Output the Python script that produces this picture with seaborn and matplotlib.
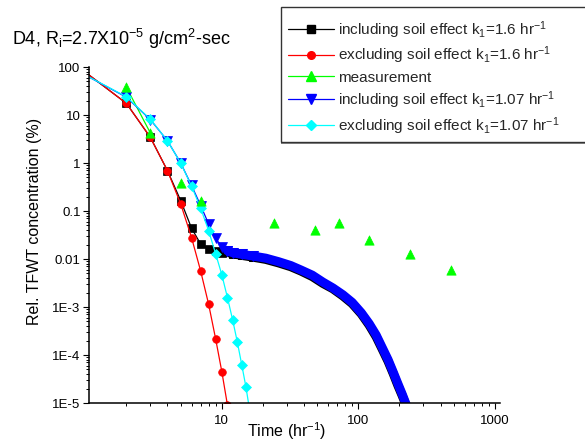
import numpy as np
import matplotlib
matplotlib.use('Agg')
import matplotlib.pyplot as plt
import seaborn as sns
from matplotlib.lines import Line2D
from matplotlib.patches import Rectangle
from matplotlib.ticker import FixedLocator, FixedFormatter, LogLocator, NullFormatter

# Values (time in hr, concentration in %)
time_incl_16 = [1, 2, 3, 4, 5, 6, 7, 8, 9, 10,
                11, 12, 14, 17, 21, 26, 32, 38, 46, 55, 65, 77, 90,
                105, 120, 135, 150, 165, 180, 195, 210, 225]
conc_incl_16 = [78, 17.5, 3.4, 0.69, 0.164, 0.044, 0.0204, 0.0162, 0.0145, 0.0135,
                0.0138, 0.0128, 0.0119, 0.0109, 0.0098, 0.0083, 0.0069, 0.0056, 0.0043,
                0.0031, 0.0024, 0.0017, 0.00118, 7.2e-4, 4.2e-4, 2.4e-4, 1.3e-4,
                7.4e-5, 4.1e-5, 2.3e-5, 1.4e-5, 8.5e-6]

time_excl_16 = [1, 2, 3, 4, 5, 6, 7, 8, 9, 10, 11]
conc_excl_16 = [78, 17.5, 3.4, 0.69, 0.14, 0.028, 0.0056, 0.00115, 2.2e-4, 4.5e-5, 9e-6]

time_meas = [2, 3, 5, 7, 24, 48, 72, 120, 240, 480]
conc_meas = [37.8, 4.2, 0.39, 0.164, 0.055, 0.040, 0.055, 0.025, 0.0127, 0.0059]

time_incl_107 = [1, 2, 3, 4, 5, 6, 7, 8, 9, 10,
                 11, 12, 14, 17, 21, 26, 32, 38, 46, 55, 65, 77, 90,
                 105, 120, 135, 150, 165, 180, 195, 210, 225]
conc_incl_107 = [68, 23.5, 8.0, 2.9, 1.0, 0.34, 0.13, 0.054, 0.027, 0.018,
                 0.0148, 0.0135, 0.0125, 0.0115, 0.0104, 0.0088, 0.0073, 0.0059, 0.0046,
                 0.0033, 0.0025, 0.0018, 0.00125, 7.6e-4, 4.5e-4, 2.6e-4, 1.4e-4,
                 8.0e-5, 4.4e-5, 2.5e-5, 1.5e-5, 9.0e-6]

time_excl_107 = [1, 2, 3, 4, 5, 6, 7, 8, 9, 10, 11, 12, 13, 14, 15, 16]
conc_excl_107 = [68, 24, 8.1, 2.9, 0.99, 0.33, 0.114, 0.039, 0.013, 0.0047,
                 0.00156, 5.4e-4, 1.84e-4, 6.2e-5, 2.2e-5, 7e-6]

legend_labels = [
    r'including soil effect k$\mathregular{_1}$=1.6 hr$\mathregular{^{-1}}$',
    r'excluding soil effect k$\mathregular{_1}$=1.6 hr$\mathregular{^{-1}}$',
    'measurement',
    r'including soil effect k$\mathregular{_1}$=1.07 hr$\mathregular{^{-1}}$',
    r'excluding soil effect k$\mathregular{_1}$=1.07 hr$\mathregular{^{-1}}$',
]
ytick_vals = [1e-5, 1e-4, 1e-3, 1e-2, 1e-1, 1, 10, 100]
ytick_text = ['1E-5', '1E-4', '1E-3', '0.01', '0.1', '1', '10', '100']
xtick_vals = [10, 100, 1000]
xtick_text = ['10', '100', '1000']

sns.set_theme(style='ticks')
plt.rcParams['font.family'] = ['Liberation Sans', 'DejaVu Sans']
plt.rcParams['mathtext.fontset'] = 'custom'
plt.rcParams['mathtext.rm'] = 'Liberation Sans'

fig = plt.figure(figsize=(5.85, 4.45), dpi=100)
ax = fig.add_axes([89.3 / 585, 1 - 403 / 445, (500 - 89.3) / 585, 336 / 445])

band_from = 10  # index where the dense marker band starts

def draw(t, c, color, marker, ms, band=None):
    t = np.array(t, dtype=float)
    c = np.array(c, dtype=float)
    end = len(t) if band is None else band + 1
    sns.lineplot(x=t[:end], y=c[:end], ax=ax, color=color, lw=0.9, marker=marker,
                 markersize=ms, markeredgecolor=color, markeredgewidth=0.5,
                 markevery=list(range(1, end)), estimator=None, sort=False)
    if band is not None:
        # overlapping markers in the original read as one thick band
        sns.lineplot(x=t[band:], y=c[band:], ax=ax, color=color, lw=6.5,
                     solid_capstyle='round', marker=marker, markersize=ms,
                     markeredgecolor=color, markevery=[0, 1, 2, 3],
                     estimator=None, sort=False)

draw(time_incl_16, conc_incl_16, 'black', 's', 5.5, band=band_from)
draw(time_excl_16, conc_excl_16, 'red', 'o', 5.5)

# measurement: markers, joined only where hours are consecutive
tm = np.array(time_meas, dtype=float)
cm = np.array(conc_meas, dtype=float)
sns.scatterplot(x=tm, y=cm, ax=ax, color='#00ff00', marker='^', s=45,
                edgecolor='#00ff00', linewidth=0.5, zorder=3)
for i in range(len(tm) - 1):
    if tm[i + 1] - tm[i] == 1:
        sns.lineplot(x=tm[i:i + 2], y=cm[i:i + 2], ax=ax, color='#00ff00', lw=0.9,
                     estimator=None, sort=False)

draw(time_incl_107, conc_incl_107, 'blue', 'v', 6.5, band=band_from)
draw(time_excl_107, conc_excl_107, '#00ffff', 'D', 5.5)

ax.set_xscale('log')
ax.set_yscale('log')
ax.set_xlim(1.07, 1090)
ax.set_ylim(1e-5, 100)

ax.yaxis.set_major_locator(FixedLocator(ytick_vals))
ax.yaxis.set_major_formatter(FixedFormatter(ytick_text))
ax.yaxis.set_minor_locator(LogLocator(base=10, subs=np.arange(2, 10), numticks=20))
ax.yaxis.set_minor_formatter(NullFormatter())
ax.xaxis.set_major_locator(FixedLocator(xtick_vals))
ax.xaxis.set_major_formatter(FixedFormatter(xtick_text))
ax.xaxis.set_minor_locator(LogLocator(base=10, subs=np.arange(2, 10), numticks=20))
ax.xaxis.set_minor_formatter(NullFormatter())

sns.despine(ax=ax)
for side in ['left', 'bottom']:
    ax.spines[side].set_linewidth(1.1)
    ax.spines[side].set_color('black')
ax.tick_params(which='major', direction='out', length=4.3, width=0.8, colors='black',
               labelsize=9.5, pad=2)
ax.tick_params(which='minor', direction='out', length=2.2, width=0.7, colors='black')
ax.tick_params(axis='x', which='major', pad=4)

ax.set_xlabel(r'Time (hr$\mathregular{^{-1}}$)', fontsize=11.5, color='black')
ax.set_ylabel('Rel. TFWT concentration (%)', fontsize=11.5, color='black')
ax.xaxis.set_label_coords(0.48, -0.052)
ax.yaxis.set_label_coords(-0.115, 0.54)

fig.text(12 / 585, 1 - 45 / 445,
         r'D4, R$\mathregular{_i}$=2.7X10$\mathregular{^{-5}}$ g/cm$\mathregular{^2}$-sec',
         fontsize=13, ha='left', va='baseline', color='black')

# legend
styles = [('black', 's', 5.5), ('red', 'o', 5.5), ('#00ff00', '^', 6.5),
          ('blue', 'v', 6.5), ('#00ffff', 'D', 5.5)]
handles = [Line2D([], [], color=c, lw=0.9, marker=m, markersize=s, markeredgecolor=c)
           for c, m, s in styles]
fig.legend(handles, legend_labels, loc='upper left',
           bbox_to_anchor=(288 / 585, 1 - 19 / 445), frameon=False, fontsize=11,
           handlelength=3.0, handletextpad=0.3, labelspacing=0.28, borderpad=0,
           borderaxespad=0)
fig.patches.append(Rectangle((281 / 585, 1 - 142 / 445), (640 - 281) / 585, 135 / 445,
                             transform=fig.transFigure, fill=False, ec='#333333', lw=1.0))
fig.patches.append(Rectangle((281 / 585, 1 - 144 / 445), (640 - 281) / 585, 1.5 / 445,
                             transform=fig.transFigure, fill=True, fc='#777777', lw=0))

fig.savefig('out.png', dpi=100)
